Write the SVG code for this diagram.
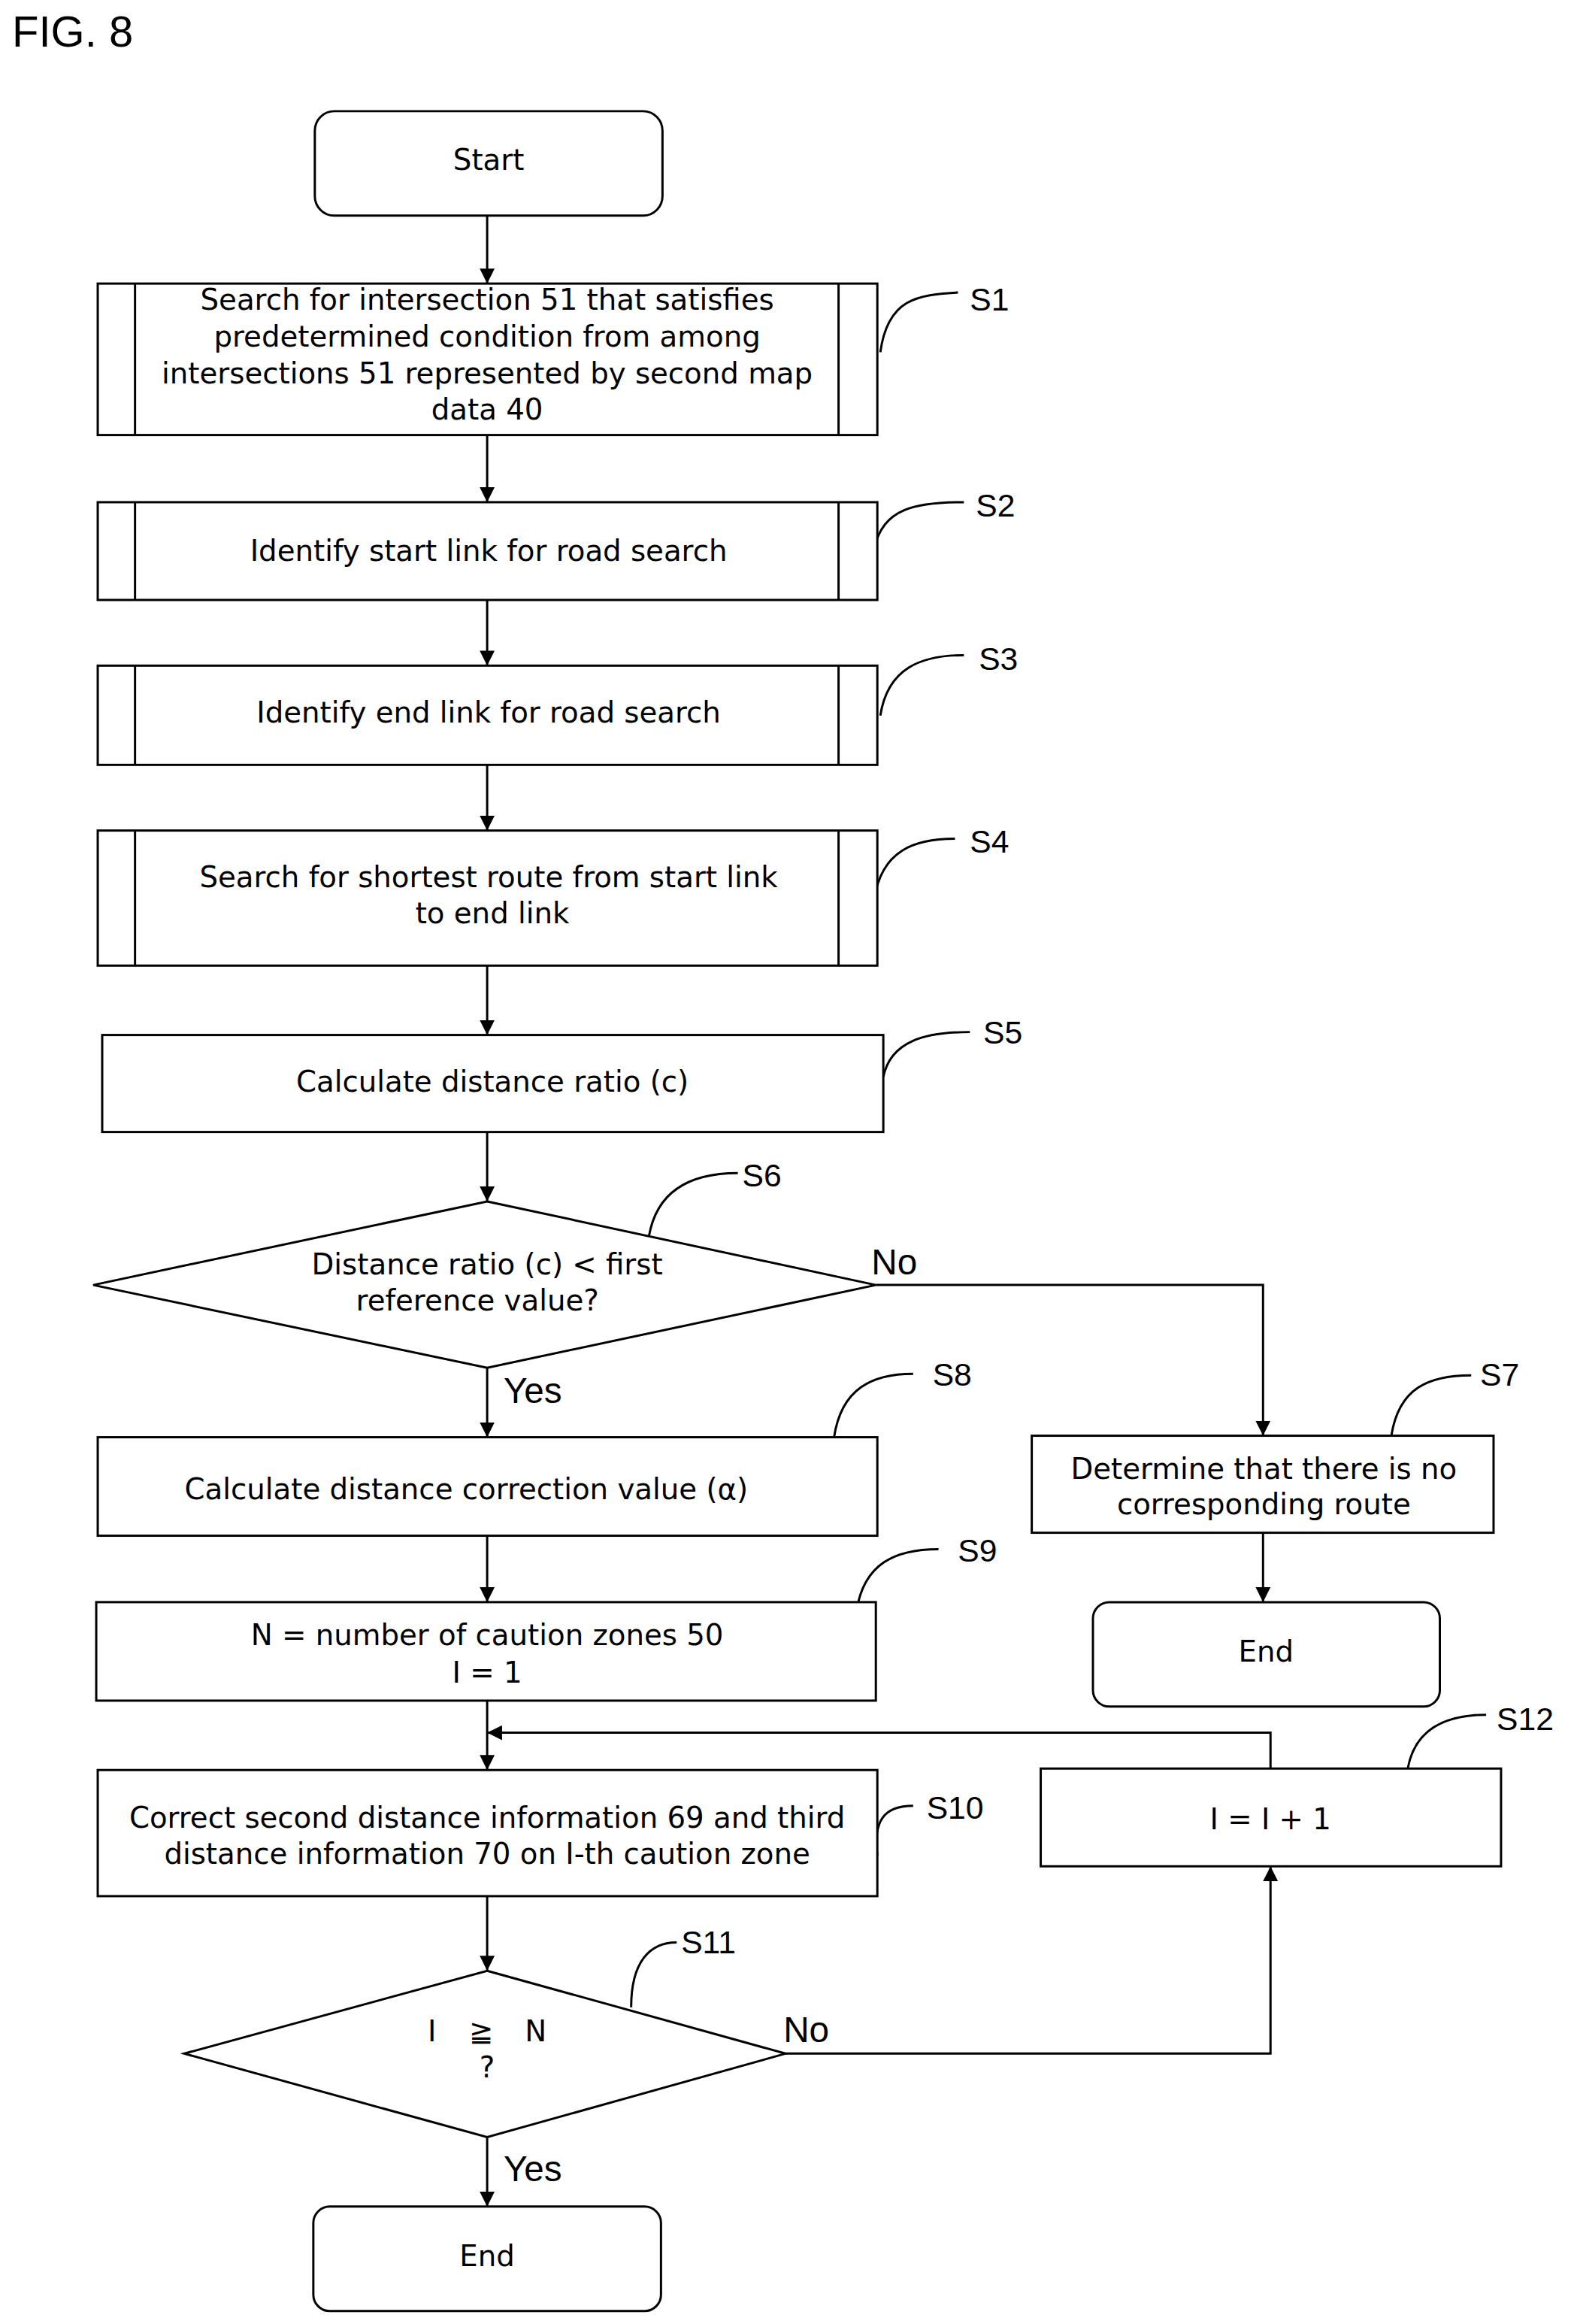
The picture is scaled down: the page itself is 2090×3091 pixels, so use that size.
<svg xmlns="http://www.w3.org/2000/svg" width="2090" height="3091" viewBox="0 0 2090 3091">
<style>
.b{fill:#fff;stroke:#000;stroke-width:3}
.l{fill:none;stroke:#000;stroke-width:3}
.t{font-family:"DejaVu Sans",Verdana,sans-serif;font-size:39px;text-anchor:middle;dominant-baseline:central;fill:#000}
.s{font-family:"Liberation Sans",Arial,sans-serif;font-size:43px;fill:#000}
</style>
<defs>
<marker id="ar" viewBox="0 0 10 10" refX="10" refY="5" markerWidth="20" markerHeight="24" orient="auto" markerUnits="userSpaceOnUse"><path d="M0,0L10,5L0,10z" fill="#000"/></marker></defs>
<text x="16" y="62" style="font-family:'Liberation Sans',Arial,sans-serif;font-size:58px">FIG. 8</text>
<g transform="scale(0.9925)">
<g id="connectors" class="l">
<path d="M653,289V380" marker-end="url(#ar)"/>
<path d="M653,583V673" marker-end="url(#ar)"/>
<path d="M653,804V892" marker-end="url(#ar)"/>
<path d="M653,1025V1113" marker-end="url(#ar)"/>
<path d="M653,1294V1387" marker-end="url(#ar)"/>
<path d="M653,1517V1610" marker-end="url(#ar)"/>
<path d="M653,1833V1926" marker-end="url(#ar)"/>
<path d="M1174,1722H1693V1924" marker-end="url(#ar)"/>
<path d="M1693,2054V2147" marker-end="url(#ar)"/>
<path d="M653,2058V2147" marker-end="url(#ar)"/>
<path d="M653,2279V2372" marker-end="url(#ar)"/>
<path d="M1703,2370V2322H653" marker-end="url(#ar)"/>
<path d="M653,2541V2641" marker-end="url(#ar)"/>
<path d="M1053,2752H1703V2501" marker-end="url(#ar)"/>
<path d="M653,2864V2957" marker-end="url(#ar)"/>
<path d="M1180,472C1190,400 1230,395 1284,392"/>
<path d="M1172,736C1182,680 1230,673 1292,673"/>
<path d="M1180,959C1190,895 1235,878 1292,878"/>
<path d="M1172,1204C1182,1140 1225,1124 1280,1124"/>
<path d="M1184,1443C1194,1395 1240,1383 1300,1383"/>
<path d="M870,1656C880,1600 920,1572 989,1572"/>
<path d="M1118,1926C1128,1860 1170,1841 1224,1841"/>
<path d="M1865,1924C1875,1860 1915,1843 1972,1843"/>
<path d="M1148,2159C1158,2095 1200,2076 1258,2076"/>
<path d="M1887,2370C1897,2315 1940,2298 1992,2298"/>
<path d="M1176,2487C1170,2440 1185,2420 1224,2420"/>
<path d="M846,2690C846,2630 870,2603 907,2603"/>
</g>
<g class="s">
<text x="1300" y="416">S1</text><text x="1308" y="692">S2</text><text x="1312" y="898">S3</text>
<text x="1300" y="1143">S4</text><text x="1318" y="1398">S5</text><text x="995" y="1590">S6</text>
<text x="1250" y="1857">S8</text><text x="1984" y="1857">S7</text><text x="1284" y="2093">S9</text>
<text x="2006" y="2318">S12</text><text x="1242" y="2437">S10</text><text x="913" y="2618">S11</text>
<text x="1168" y="1708" font-size="48">No</text><text x="675" y="1880" font-size="48">Yes</text>
<text x="1050" y="2737" font-size="48">No</text><text x="675" y="2923" font-size="48">Yes</text>
</g>
<g id="start"><rect class="b" x="422" y="149" width="466" height="140" rx="26"/><text class="t" x="655" y="214">Start</text></g>
<g id="s1"><rect class="b" x="131" y="380" width="1045" height="203"/><path class="l" d="M181,380V583M1124,380V583"/>
<text class="t" x="653" y="402">Search for intersection 51 that satisfies</text><text class="t" x="653" y="451">predetermined condition from among</text><text class="t" x="653" y="500">intersections 51 represented by second map</text><text class="t" x="653" y="549">data 40</text></g>
<g id="s2"><rect class="b" x="131" y="673" width="1045" height="131"/><path class="l" d="M181,673V804M1124,673V804"/><text class="t" x="655" y="738">Identify start link for road search</text></g>
<g id="s3"><rect class="b" x="131" y="892" width="1045" height="133"/><path class="l" d="M181,892V1025M1124,892V1025"/><text class="t" x="655" y="955">Identify end link for road search</text></g>
<g id="s4"><rect class="b" x="131" y="1113" width="1045" height="181"/><path class="l" d="M181,1113V1294M1124,1113V1294"/><text class="t" x="655" y="1175">Search for shortest route from start link</text><text class="t" x="660" y="1224">to end link</text></g>
<g id="s5"><rect class="b" x="137" y="1387" width="1047" height="130"/><text class="t" x="660" y="1449">Calculate distance ratio (c)</text></g>
<g id="s6"><path class="b" d="M653,1610L1174,1722L653,1833L125,1722Z"/><text class="t" x="653" y="1694">Distance ratio (c) &lt; first</text><text class="t" x="640" y="1743">reference value?</text></g>
<g id="s8"><rect class="b" x="131" y="1926" width="1045" height="132"/><text class="t" x="625" y="1995">Calculate distance correction value (α)</text></g>
<g id="s7"><rect class="b" x="1383" y="1924" width="619" height="130"/><text class="t" x="1694" y="1968">Determine that there is no</text><text class="t" x="1694" y="2016">corresponding route</text></g>
<g id="end1"><rect class="b" x="1465" y="2147" width="465" height="140" rx="22"/><text class="t" x="1697" y="2213">End</text></g>
<g id="s9"><rect class="b" x="129" y="2147" width="1045" height="132"/><text class="t" x="653" y="2191">N = number of caution zones 50</text><text class="t" x="653" y="2241">I = 1</text></g>
<g id="s10"><rect class="b" x="131" y="2372" width="1045" height="169"/><text class="t" x="653" y="2436">Correct second distance information 69 and third</text><text class="t" x="653" y="2484">distance information 70 on I-th caution zone</text></g>
<g id="s12"><rect class="b" x="1395" y="2370" width="617" height="131"/><text class="t" x="1703" y="2438">I = I + 1</text></g>
<g id="s11"><path class="b" d="M653,2641L1053,2752L653,2864L247,2752Z"/><text class="t" x="579" y="2722">I</text><text class="t" x="645" y="2722">≧</text><text class="t" x="718" y="2722">N</text><text class="t" x="653" y="2770">?</text></g>
<g id="end2"><rect class="b" x="420" y="2957" width="466" height="140" rx="22"/><text class="t" x="653" y="3023">End</text></g>
</g>
</svg>
